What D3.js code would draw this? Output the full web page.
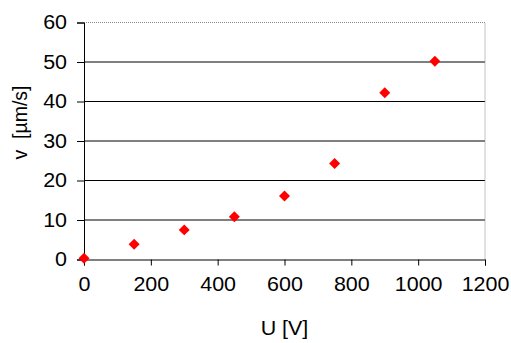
<!DOCTYPE html>
<html>
<head>
<meta charset="utf-8">
<script src="https://cdn.jsdelivr.net/npm/d3@7"></script>
<style>
  body { margin: 0; background: #fff; }
  svg text { font-family: "Liberation Sans", Arial, sans-serif; fill: #000; }
  /* the reference text is drawn a bit wider than normal Arial */
  .wide { transform-box: fill-box; transform-origin: center; transform: scaleX(1.1); }
  .wide-end { transform-box: fill-box; transform-origin: right center; transform: scaleX(1.1); }
</style>
</head>
<body>
<div class="chart"></div>
<script>
const width = 511, height = 343;
const margin = {top: 22.5, right: 26, bottom: 83.5, left: 84};

// data
const voltage = [0, 150, 300, 450, 600, 750, 900, 1050];
const speed = [0.3, 3.85, 7.5, 10.8, 16.1, 24.3, 42.2, 50.2];
const xTicks = [0, 200, 400, 600, 800, 1000, 1200];
const yTicks = [0, 10, 20, 30, 40, 50, 60];
const xAxisLabel = 'U [V]';
const yAxisLabel = 'v  [µm/s]';
const fontSize = 19.5;

const svg = d3.select('.chart').append('svg')
  .attr('width', width).attr('height', height);

const xScale = d3.scaleLinear().domain([0, 1200]).range([margin.left, width - margin.right]);
const yScale = d3.scaleLinear().domain([0, 60]).range([height - margin.bottom, margin.top]);

const x0 = xScale(0), x1 = xScale(1200), y0 = yScale(0), y1 = yScale(60);

// horizontal gridlines
svg.append('g').selectAll('line')
  .data(yTicks.filter(d => d > 0 && d < 60))
  .enter().append('line')
  .attr('x1', x0).attr('x2', x1)
  .attr('y1', d => yScale(d)).attr('y2', d => yScale(d))
  .attr('stroke', '#000').attr('stroke-width', 1);

// plot area border (top/right dotted grey)
svg.append('path')
  .attr('d', `M${x0},${y1}H${x1}V${y0}`)
  .attr('fill', 'none').attr('stroke', '#888').attr('stroke-dasharray', '1,1');

// y axis
const yAxis = d3.axisLeft(yScale).tickValues(yTicks).tickFormat(d3.format('d')).tickSize(7).tickPadding(10);
svg.append('g').attr('transform', `translate(${x0},0)`).call(yAxis)
  .call(g => g.select('.domain').attr('stroke', '#000'))
  .call(g => g.selectAll('text').attr('font-size', fontSize).attr('class', 'wide-end'));

// x axis
const xAxis = d3.axisBottom(xScale).tickValues(xTicks).tickFormat(d3.format('d')).tickSize(6).tickPadding(12);
svg.append('g').attr('transform', `translate(0,${y0})`).call(xAxis)
  .call(g => g.select('.domain').attr('stroke', '#000'))
  .call(g => g.selectAll('text').attr('font-size', fontSize).attr('class', 'wide'));

// axis titles
svg.append('text')
  .attr('class', 'wide')
  .attr('x', (x0 + x1) / 2).attr('y', 335.5)
  .attr('text-anchor', 'middle').attr('font-size', fontSize)
  .text(xAxisLabel);

svg.append('text')
  .attr('transform', `translate(27,122.5) rotate(-90)`)
  .attr('text-anchor', 'middle').attr('font-size', fontSize)
  .style('white-space', 'pre')
  .text(yAxisLabel);

// diamond markers
const diamond = d3.symbol().type(d3.symbolSquare).size(60);
svg.append('g').selectAll('path')
  .data(voltage.map((v, i) => [v, speed[i]]))
  .enter().append('path')
  .attr('d', diamond)
  .attr('transform', d => `translate(${xScale(d[0])},${yScale(d[1])}) rotate(45)`)
  .attr('fill', '#ff0000');
</script>
</body>
</html>
